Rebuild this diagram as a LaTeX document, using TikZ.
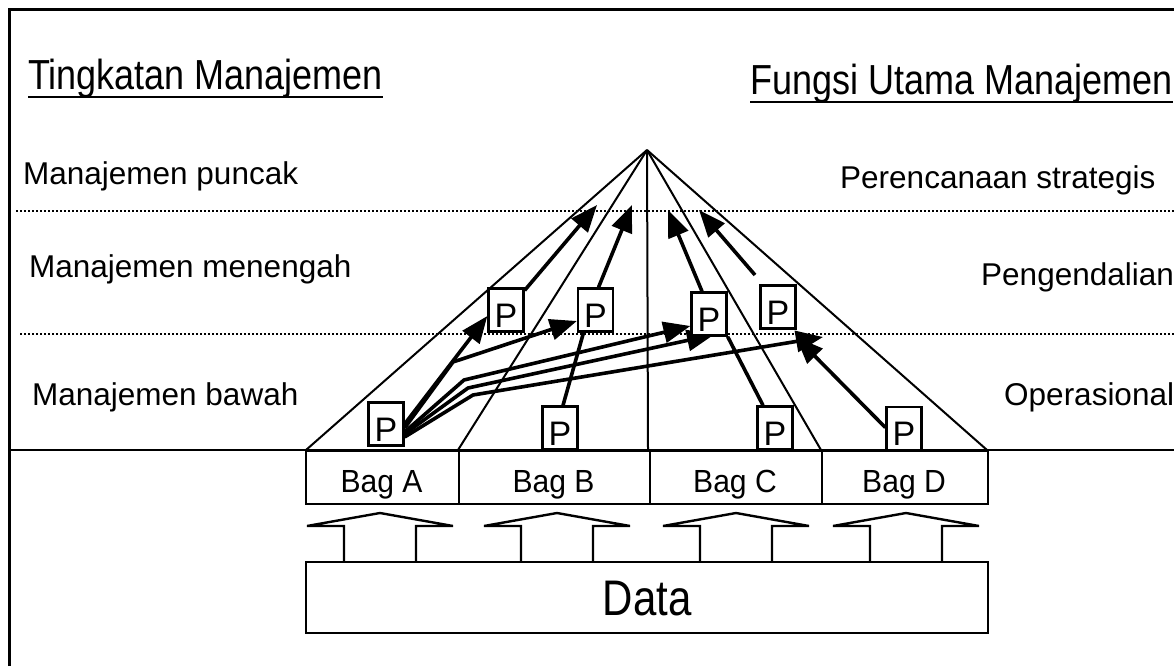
\documentclass[tikz,border=0pt]{standalone}
\usepackage{fontspec}
\setmainfont{Liberation Sans}
\usepackage{graphicx}
\usetikzlibrary{arrows.meta,calc}
\begin{document}
\begin{tikzpicture}[x=1pt,y=-1pt,
  pbox/.style={draw,line width=2.3pt,fill=white,minimum width=35pt,minimum height=43pt,inner sep=0pt,text height=34pt,text depth=0pt,font=\fontsize{34}{34}\selectfont},
  bagbox/.style={draw,line width=2.2pt,fill=white,minimum height=53pt,inner sep=0pt,anchor=north west},
  lbl/.style={anchor=base west,inner sep=0pt,font=\fontsize{31.5}{32}\selectfont},
  baglbl/.style={anchor=base,inner sep=0pt,font=\fontsize{32}{32}\selectfont},
  head/.style={anchor=base west,inner sep=0pt,font=\fontsize{42}{42}\selectfont},
  pyr/.style={line width=2pt},
  flow/.style={line width=3.6pt,line join=round,-{Triangle[length=27pt,width=21pt]}},
  plain/.style={line width=3.6pt},
  dots/.style={line width=1.6pt,dash pattern=on 1.6pt off 2.4pt},
  blockarrow/.style={line width=2.4pt,line join=miter}
]
\useasboundingbox (0,0) rectangle (1174,666);
% frame
\draw[line width=3pt] (9,666) -- (9,10) -- (1174,10);
\draw[line width=2.5pt] (9,450) -- (1174,450);
% dotted level lines
\draw[dots] (16,211) -- (1174,211);
\draw[dots] (20,334) -- (1174,334);
% pyramid
\coordinate (apex) at (647,150);
\draw[pyr] (apex) -- (306,450);
\draw[pyr] (apex) -- (458,450);
\draw[pyr] (apex) -- (648,450);
\draw[pyr] (apex) -- (821,450);
\draw[pyr] (apex) -- (987,450);
% P boxes positions
\coordinate (cpa) at (386,424);
\coordinate (cpb) at (560,428);
\coordinate (cpc) at (775,428);
\coordinate (cpd) at (904,428.5);
\coordinate (cp1) at (506,310);
\coordinate (cp2) at (595.5,310);
\coordinate (cp3) at (709,314);
\coordinate (cp4) at (778,307);
% invisible anchors first (so arrows can use names)
\node[pbox,draw=none,fill=none,text opacity=0] (pa) at (cpa) {P};
\node[pbox,draw=none,fill=none,text opacity=0] (pb) at (cpb) {P};
\node[pbox,draw=none,fill=none,text opacity=0] (pc) at (cpc) {P};
\node[pbox,draw=none,fill=none,text opacity=0] (pd) at (cpd) {P};
\node[pbox,draw=none,fill=none,text opacity=0] (p1) at (cp1) {P};
\node[pbox,draw=none,fill=none,text opacity=0] (p2) at (cp2) {P};
\node[pbox,draw=none,fill=none,text opacity=0] (p3) at (cp3) {P};
\node[pbox,draw=none,fill=none,text opacity=0] (p4) at (cp4) {P};
% elbow and tip coordinates
\coordinate (e2) at (453,362);
\coordinate (e3) at (464,380);
\coordinate (e5) at (468,388);
\coordinate (e4) at (473,395);
\coordinate (t4) at (823,337);
\coordinate (t5) at (597,205);
\coordinate (t6) at (632,205);
\coordinate (t7) at (668,210);
\coordinate (t8) at (699,210);
\coordinate (s8) at (755,275);
\coordinate (t11) at (796,337);
% flows from bottom P of Bag A
\draw[flow] ($(pa.east)+(0,0)$) -- ($(p1.west)+(0,6)$);
\draw[flow] ($(pa.east)+(0,4)$) -- (e2) -- ($(p2.west)+(0,11)$);
\draw[flow] ($(pa.east)+(0,8)$) -- (e3) -- ($(p3.west)+(0,12)$);
\draw[flow] ($(pa.east)+(0,10)$) -- (e5) -- ($(p3.south)+(5,-2)$);
\draw[flow] ($(pa.east)+(0,13)$) -- (e4) -- (t4);
% flows to the top
\draw[flow] ($(p1.north east)+(0,3)$) -- (t5);
\draw[flow] ($(p2.north)+(3,0)$) -- (t6);
\draw[flow] ($(p3.north)+(-7,0)$) -- (t7);
\draw[flow] (s8) -- (t8);
% lines from lower P boxes
\draw[plain] ($(pb.north)+(3,0)$) -- ($(p2.south)+(-12,0)$);
\draw[plain] ($(pc.north)+(-12,0)$) -- (p3.south east);
\draw[flow] ($(pd.west)+(0,-1)$) -- (t11);
% P boxes
\foreach \n in {pa,pb,pc,pd,p1,p2,p3,p4}
  \node[pbox] at (\n) {P};
% bags
\node[bagbox,minimum width=153pt] (baga) at (305,450) {};
\node[bagbox,minimum width=191pt] (bagb) at (458,450) {};
\node[bagbox,minimum width=172pt] (bagc) at (649,450) {};
\node[bagbox,minimum width=166pt] (bagd) at (821,450) {};
\node[baglbl] (la) at (381.5,492) {\scalebox{0.94}[1]{Bag A}};
\node[baglbl] (lb) at (553.5,492) {\scalebox{0.94}[1]{Bag B}};
\node[baglbl] (lc) at (735,492) {\scalebox{0.94}[1]{Bag C}};
\node[baglbl] (ld) at (904,492) {\scalebox{0.94}[1]{Bag D}};
% block arrows
\foreach \c in {380,557,736,906}
  \draw[blockarrow] (\c-36,561) -- (\c-36,526) -- (\c-73,526) -- (\c,513) -- (\c+73,526) -- (\c+36,526) -- (\c+36,561);
% data
\node[draw,line width=2.2pt,fill=white,minimum width=682pt,minimum height=71pt,inner sep=0pt,anchor=north west,
      text height=36pt,text depth=0pt,font=\fontsize{50}{50}\selectfont] (data) at (305,561) {\scalebox{0.84}[1]{Data}};
% headings
\node[head] (h1) at (28,90) {\scalebox{0.857}[1]{Tingkatan Manajemen}};
\draw[line width=2.8pt] ($(h1.base west)+(0,7)$) -- ($(h1.base east)+(0,7)$);
\node[head] (h2) at (750,95) {\scalebox{0.857}[1]{Fungsi Utama Manajemen}};
\draw[line width=2.8pt] ($(h2.base west)+(0,7)$) -- ($(h2.base east)+(0,7)$);
% level labels
\node[lbl] (l1) at (23,184) {Manajemen puncak};
\node[lbl] (l2) at (29,277) {Manajemen menengah};
\node[lbl] (l3) at (32,405) {Manajemen bawah};
\node[lbl] (r1) at (840,188) {Perencanaan strategis};
\node[lbl] (r2) at (981,285) {Pengendalian};
\node[lbl] (r3) at (1004,405) {Operasional};
\end{tikzpicture}
\end{document}
